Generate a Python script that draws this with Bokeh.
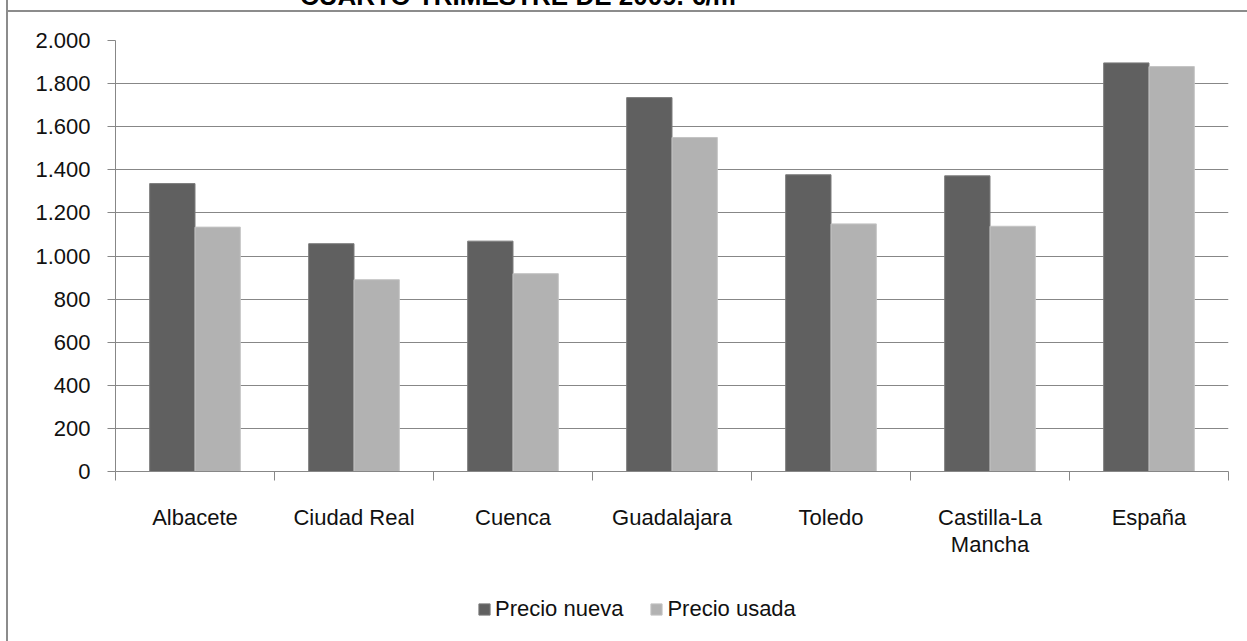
from bokeh.plotting import figure
from bokeh.layouts import column
from bokeh.models import Range1d, FixedTicker, Legend, LegendItem, ColumnDataSource, Div
from bokeh.transform import dodge
from bokeh.embed import file_html
from bokeh.resources import INLINE

# ---- data ----
categories = ["Albacete", "Ciudad Real", "Cuenca", "Guadalajara", "Toledo", "Castilla-La Mancha", "España"]
x_tick_labels = ["Albacete", "Ciudad Real", "Cuenca", "Guadalajara", "Toledo", "Castilla-La\nMancha", "España"]
precio_nueva = [1336, 1057, 1069, 1735, 1377, 1372, 1896]
precio_usada = [1134, 890, 918, 1550, 1149, 1138, 1879]
y_ticks = [0, 200, 400, 600, 800, 1000, 1200, 1400, 1600, 1800, 2000]
y_tick_labels = ["0", "200", "400", "600", "800", "1.000", "1.200", "1.400", "1.600", "1.800", "2.000"]
series_names = ["Precio nueva", "Precio usada"]
title_text = "CUARTO TRIMESTRE DE 2009. €/m²"

FONT = "Liberation Sans"
DARK = "#606060"
LIGHT = "#b2b2b2"
DARK_EDGE = "#7c7c7c"
LIGHT_EDGE = "#c4c4c4"
GRID = "#878787"
BORDER = "2px solid #8c8c8c"

n = len(categories)
pos = [i + 0.5 for i in range(n)]          # category slot centres
src = ColumnDataSource(dict(cat=categories, pos=pos, nueva=precio_nueva, usada=precio_usada))

W = 1239
p = figure(width=W, height=559, x_range=Range1d(0, n), y_range=Range1d(0, 2000),
           output_backend="svg", toolbar_location=None,
           min_border_left=107, min_border_right=19, min_border_top=28, min_border_bottom=100)
p.margin = (0, 0, 0, 0)
p.outline_line_color = None
p.background_fill_color = "white"
p.border_fill_color = "white"
p.xgrid.visible = False

p.vbar(x=dodge("pos", -0.1425), top="nueva", width=0.285, source=src,
       fill_color=DARK, line_color=DARK_EDGE, line_width=1)
p.vbar(x=dodge("pos", 0.1425), top="usada", width=0.285, source=src,
       fill_color=LIGHT, line_color=LIGHT_EDGE, line_width=1)

# y axis
ya = p.yaxis[0]
ya.ticker = FixedTicker(ticks=y_ticks, minor_ticks=[])
ya.major_label_overrides = {t: l for t, l in zip(y_ticks, y_tick_labels)}
ya.major_label_text_font = FONT
ya.major_label_text_font_size = "22px"
ya.major_label_text_color = "#111111"
ya.major_label_standoff = 17
ya.major_tick_out = 8
ya.major_tick_in = 0
ya.major_tick_line_color = GRID
ya.axis_line_color = GRID
ya.minor_tick_line_color = None
p.ygrid.grid_line_color = GRID
p.ygrid.grid_line_width = 1
p.ygrid.ticker = ya.ticker

# x axis: labels at category centres, tick marks between categories
xa = p.xaxis[0]
xa.ticker = FixedTicker(ticks=pos, minor_ticks=list(range(n + 1)))
xa.major_label_overrides = {c: l for c, l in zip(pos, x_tick_labels)}
xa.major_label_text_font = FONT
xa.major_label_text_font_size = "22px"
xa.major_label_text_color = "#111111"
xa.major_label_text_line_height = 1.08
xa.major_label_standoff = 24
xa.major_tick_out = 0
xa.major_tick_in = 0
xa.minor_tick_out = 9
xa.minor_tick_in = 0
xa.minor_tick_line_color = GRID
xa.axis_line_color = GRID

# legend strip below the chart (its bars lie outside its visible y range; only the legend shows)
lg = figure(width=W, height=70, x_range=Range1d(0, n), y_range=Range1d(3000, 4000),
            x_axis_type=None, y_axis_type=None, output_backend="svg", toolbar_location=None,
            min_border=0)
lg.margin = (0, 0, 0, 0)
lg.outline_line_color = None
lg.background_fill_color = "white"
lg.border_fill_color = "white"
g1 = lg.vbar(x="pos", top="nueva", width=0.285, source=src, fill_color=DARK, line_color=DARK_EDGE)
g2 = lg.vbar(x="pos", top="usada", width=0.285, source=src, fill_color=LIGHT, line_color=LIGHT_EDGE)
legend = Legend(items=[LegendItem(label=series_names[0], renderers=[g1]),
                       LegendItem(label=series_names[1], renderers=[g2])],
                orientation="horizontal", location=(362, 19),
                label_text_font=FONT, label_text_font_size="22px", label_text_color="#111111",
                glyph_width=14, glyph_height=14, label_standoff=4, spacing=26,
                padding=0, margin=0, border_line_color=None, background_fill_alpha=0)
lg.add_layout(legend, "center")

# title (mostly above the visible page, as in the reference) with chart-area top border
title = Div(text=title_text, margin=(0, 0, 0, 0),
            styles={"font-family": FONT, "font-weight": "bold", "font-size": "26px",
                    "line-height": "27px", "color": "black", "white-space": "nowrap",
                    "text-indent": "292px", "border-bottom": BORDER, "width": "1239px"})

layout = column(title, p, lg, spacing=0)
layout.margin = (-17, 0, 0, 6)
layout.styles = {"border-left": BORDER}

open("out.html", "w").write(file_html(layout, INLINE))
